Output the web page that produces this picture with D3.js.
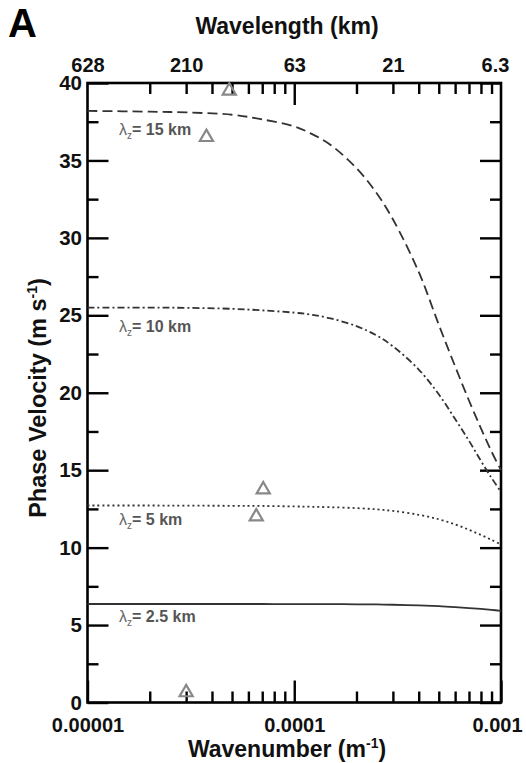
<!DOCTYPE html>
<html><head><meta charset="utf-8">
<script src="https://cdn.jsdelivr.net/npm/d3@7"></script>
<style>
html,body{margin:0;padding:0;background:#fff;}
text{font-family:"Liberation Sans",Arial,Helvetica,sans-serif;}
</style></head>
<body>
<script>
// ---- data ----
const wavenumbers = [1e-5, 2e-5, 3e-5, 5e-5, 7e-5, 1e-4, 1.2e-4, 1.5e-4, 2e-4, 2.5e-4, 3e-4, 4e-4, 5e-4, 6e-4, 7e-4, 8e-4, 9e-4, 1e-3];
const c15 = [38.2, 38.15, 38.1, 37.95, 37.65, 37.2, 36.75, 36.0, 34.5, 32.9, 31.2, 27.8, 24.4, 21.7, 19.5, 17.7, 16.2, 15.0];
const c10 = [25.5, 25.5, 25.48, 25.42, 25.32, 25.17, 25.05, 24.8, 24.3, 23.7, 23.0, 21.5, 19.9, 18.3, 16.9, 15.6, 14.5, 13.6];
const c5  = [12.72, 12.72, 12.71, 12.7, 12.69, 12.66, 12.64, 12.61, 12.55, 12.47, 12.37, 12.12, 11.83, 11.5, 11.15, 10.82, 10.5, 10.2];
const c25 = [6.36, 6.36, 6.36, 6.36, 6.36, 6.35, 6.35, 6.35, 6.34, 6.33, 6.31, 6.27, 6.22, 6.16, 6.1, 6.04, 5.98, 5.92];
const seriesNames = ["15 km", "10 km", "5 km", "2.5 km"];
const labelValues = [36.64, 23.9, 11.45, 5.17];   // y value of each curve label baseline
const obsK = [4.85e-5, 3.76e-5, 7.08e-5, 6.55e-5, 3.0e-5];
const obsC = [39.5, 36.5, 13.75, 12.0, 0.65];
const yTicks = [0, 5, 10, 15, 20, 25, 30, 35, 40];
const yMinor = [2.5, 7.5, 12.5, 17.5, 22.5, 27.5, 32.5, 37.5];
const xMajor = [1e-5, 1e-4, 1e-3];
const xMajorLabels = ["0.00001", "0.0001", "0.001"];
const xMinor = [2e-5,3e-5,4e-5,5e-5,6e-5,7e-5,8e-5,9e-5,2e-4,3e-4,4e-4,5e-4,6e-4,7e-4,8e-4,9e-4];
const topK = [1e-5, 3e-5, 1e-4, 3e-4, 1e-3];
const topLabels = ["628", "210", "63", "21", "6.3"];

// ---- drawing ----
const W = 526, H = 763;
const svg = d3.select("body").append("svg").attr("width", W).attr("height", H);
const L = 87.5, R = 501, T = 83, B = 702.5;
const x = d3.scaleLog().domain([1e-5, 1e-3]).range([L, R]);
const y = d3.scaleLinear().domain([0, 40]).range([B, T]);

function styleAxis(g, fs) {
  g.select(".domain").remove();
  g.selectAll(".tick line").attr("stroke", "#000").attr("stroke-width", 2.4);
  g.selectAll(".tick text").attr("font-size", fs).attr("font-weight", "bold")
    .attr("fill", "#111").style("font-family", '"Liberation Sans",Arial,sans-serif');
}

// bottom
svg.append("g").attr("transform", `translate(0,${B})`)
  .call(d3.axisBottom(x).tickValues(xMinor).tickSize(-11).tickFormat(""))
  .call(g => styleAxis(g, 20));
svg.append("g").attr("transform", `translate(0,${B})`)
  .call(d3.axisBottom(x).tickValues(xMajor).tickSize(-22).tickPadding(15)
    .tickFormat((d, i) => xMajorLabels[i]))
  .call(g => styleAxis(g, 20))
  .call(g => g.selectAll(".tick text").attr("dx", (d, i) => i === 2 ? -4 : 0));
// top
svg.append("g").attr("transform", `translate(0,${T})`)
  .call(d3.axisTop(x).tickValues(xMinor).tickSize(-11).tickFormat(""))
  .call(g => styleAxis(g, 20));
svg.append("g").attr("transform", `translate(0,${T})`)
  .call(d3.axisTop(x).tickValues([1e-4]).tickSize(-22).tickFormat(""))
  .call(g => styleAxis(g, 20));
svg.append("g").attr("transform", `translate(0,${T})`)
  .call(d3.axisTop(x).tickValues(topK).tickSize(0).tickPadding(11)
    .tickFormat((d, i) => topLabels[i]))
  .call(g => styleAxis(g, 20))
  .call(g => g.selectAll(".tick text").attr("dx", (d, i) => i === 4 ? -6 : 0));
// left
svg.append("g").attr("transform", `translate(${L},0)`)
  .call(d3.axisLeft(y).tickValues(yTicks).tickSize(-21).tickPadding(5.5))
  .call(g => styleAxis(g, 20.5));
svg.append("g").attr("transform", `translate(${L},0)`)
  .call(d3.axisLeft(y).tickValues(yMinor).tickSize(-11).tickFormat(""))
  .call(g => styleAxis(g, 20));
// right
svg.append("g").attr("transform", `translate(${R},0)`)
  .call(d3.axisRight(y).tickValues(yTicks).tickSize(-21).tickFormat(""))
  .call(g => styleAxis(g, 20));
svg.append("g").attr("transform", `translate(${R},0)`)
  .call(d3.axisRight(y).tickValues(yMinor).tickSize(-11).tickFormat(""))
  .call(g => styleAxis(g, 20));

// frame
svg.append("rect").attr("x", L).attr("y", T).attr("width", R - L).attr("height", B - T)
  .attr("fill", "none").attr("stroke", "#000").attr("stroke-width", 2.6);

// curves
const allSeries = [c15, c10, c5, c25];
const dashes = ["10,5", "7,3,2,3", "2,3", null];
const line = d3.line().x(d => x(d[0])).y(d => y(d[1])).curve(d3.curveCatmullRom.alpha(0.5));
allSeries.forEach((s, i) => {
  const pts = wavenumbers.map((k, j) => [k, s[j]]);
  const p = svg.append("path").attr("d", line(pts)).attr("fill", "none")
    .attr("stroke", "#333").attr("stroke-width", 1.8);
  if (dashes[i]) p.attr("stroke-dasharray", dashes[i]);
});

// curve labels
seriesNames.forEach((n, i) => {
  const t = svg.append("text").attr("x", 119).attr("y", y(labelValues[i]))
    .attr("font-size", 16).attr("fill", "#555");
  t.append("tspan").text("λ").attr("font-weight", "normal").attr("fill", "#666");
  t.append("tspan").text("z").attr("font-size", 10).attr("dy", 4).attr("font-weight", "normal").attr("fill", "#666");
  t.append("tspan").text("= " + n).attr("dy", -4).attr("font-weight", "bold");
});

// observed points
const tri = d3.symbol().type(d3.symbolTriangle).size(75);
obsK.forEach((k, i) => {
  svg.append("path").attr("d", tri()).attr("transform", `translate(${x(k)},${y(obsC[i])})`)
    .attr("fill", "none").attr("stroke", "#888").attr("stroke-width", 2.2);
});

// titles
svg.append("text").attr("x", 8).attr("y", 37).text("A")
  .attr("font-size", 40).attr("font-weight", "bold").attr("fill", "#000");
svg.append("text").attr("x", 287).attr("y", 34).attr("text-anchor", "middle")
  .attr("font-size", 23).attr("font-weight", "bold").attr("fill", "#111").text("Wavelength (km)");
const xt = svg.append("text").attr("x", 287).attr("y", 757).attr("text-anchor", "middle")
  .attr("font-size", 23).attr("font-weight", "bold").attr("fill", "#111");
xt.append("tspan").text("Wavenumber (m");
xt.append("tspan").text("-1").attr("font-size", 14).attr("dy", -9);
xt.append("tspan").text(")").attr("dy", 9);
const yt = svg.append("text").attr("transform", "translate(46,398) rotate(-90)").attr("text-anchor", "middle")
  .attr("font-size", 23.5).attr("font-weight", "bold").attr("fill", "#111");
yt.append("tspan").text("Phase Velocity (m s");
yt.append("tspan").text("-1").attr("font-size", 14).attr("dy", -9);
yt.append("tspan").text(")").attr("dy", 9);
</script>
</body></html>
